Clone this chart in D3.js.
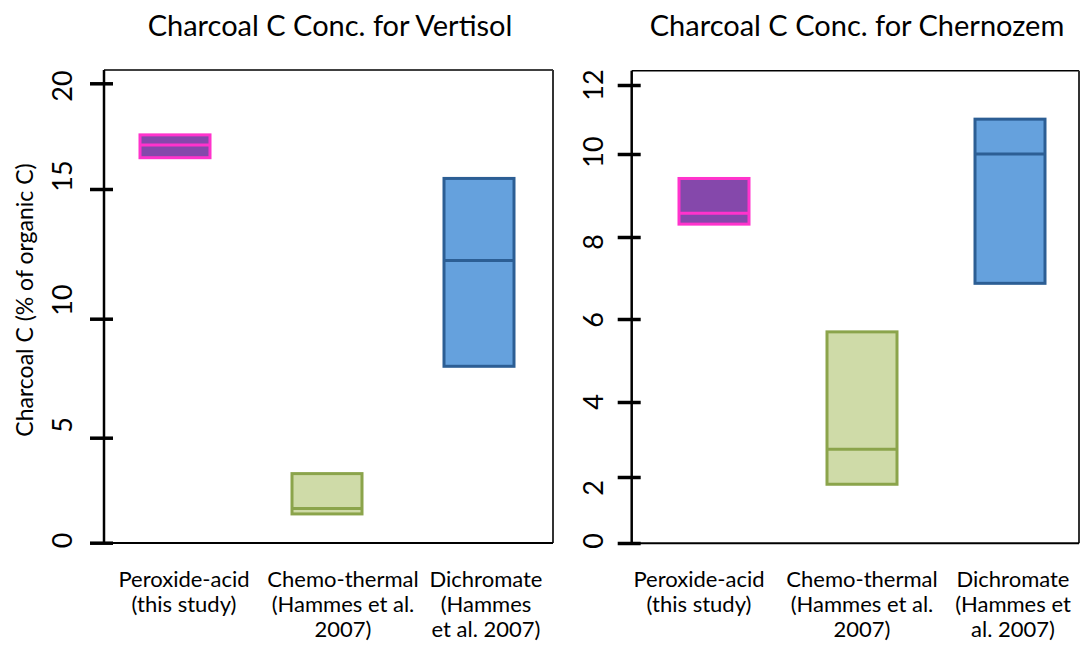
<!DOCTYPE html>
<html><head><meta charset="utf-8">
<script src="https://cdn.jsdelivr.net/npm/d3@7"></script>
<style>
body{margin:0;background:#fff}
svg{display:block}
text{font-family:Lato,"Open Sans",sans-serif;fill:#000}
</style>
</head><body><svg id="chart" width="1083" height="647"></svg>
<script>
// ---------- data ----------
const categories = ["Peroxide-acid", "Chemo-thermal", "Dichromate"];
const vertisolLow    = [16.48, 1.37, 8.0];
const vertisolMedian = [17.08, 1.63, 12.24];
const vertisolHigh   = [17.56, 3.29, 15.5];
const chernozemLow    = [8.31, 1.78, 6.87];
const chernozemMedian = [8.57, 2.74, 10.0];
const chernozemHigh   = [9.41, 5.69, 11.01];
const vertisolTicks  = [0, 5, 10, 15, 20];
const chernozemTicks = [0, 2, 4, 6, 8, 10, 12];
const vertisolCatLabels = [["Peroxide-acid", "(this study)"], ["Chemo-thermal", "(Hammes et al.", "2007)"], ["Dichromate", "(Hammes", "et al. 2007)"]];
const chernozemCatLabels = [["Peroxide-acid", "(this study)"], ["Chemo-thermal", "(Hammes et al.", "2007)"], ["Dichromate", "(Hammes et", "al. 2007)"]];
const panelTitles = ["Charcoal C Conc. for Vertisol", "Charcoal C Conc. for Chernozem"];
const yAxisTitle = "Charcoal C (% of organic C)";

// ---------- styles ----------
const fills   = ["#8548AB", "#CFDBA8", "#65A1DD"];
const strokes = ["#FF33CC", "#8BA44B", "#2C5E94"];

// ---------- layout (the source figure has hand-placed, uneven tick spacing) ----------
const panels = [
  { title: panelTitles[0], titleX: 330, low: vertisolLow, med: vertisolMedian, high: vertisolHigh,
    ticks: vertisolTicks, tickPx: [542.7, 437.7, 318.7, 189, 83.3], labelPx: [540.5, 425, 300, 176, 86],
    left: 104, top: 70, right: 553, bottom: 543, boxRange: [175, 479], catLabelX: [184, 343, 486],
    catLabels: vertisolCatLabels, tickLabelX: 62, showYTitle: true },
  { title: panelTitles[1], titleX: 857, low: chernozemLow, med: chernozemMedian, high: chernozemHigh,
    ticks: chernozemTicks, tickPx: [543, 477, 402, 319, 237, 154, 85], labelPx: [541, 488, 402, 320, 242, 152, 85],
    left: 631.7, top: 70.7, right: 1079, bottom: 543.3, boxRange: [714, 1010], catLabelX: [699, 862, 1013],
    catLabels: chernozemCatLabels, tickLabelX: 593, showYTitle: false }
];

const svg = d3.select("#chart");

panels.forEach(p => {
  const g = svg.append("g");
  const y = d3.scaleLinear().domain(p.ticks).range(p.tickPx);
  const yLab = d3.scaleLinear().domain(p.ticks).range(p.labelPx);
  const x = d3.scalePoint().domain(categories).range(p.boxRange);
  const xLab = d3.scaleOrdinal().domain(categories).range(p.catLabelX);

  // frame
  g.append("line").attr("x1", p.left).attr("x2", p.right).attr("y1", p.top).attr("y2", p.top)
    .attr("stroke", "#000").attr("stroke-width", 1.5);
  g.append("line").attr("x1", p.right).attr("x2", p.right).attr("y1", p.top).attr("y2", p.bottom)
    .attr("stroke", "#333").attr("stroke-width", 2);
  g.append("line").attr("x1", p.left).attr("x2", p.right).attr("y1", p.bottom).attr("y2", p.bottom)
    .attr("stroke", "#000").attr("stroke-width", 2);
  g.append("line").attr("x1", p.left).attr("x2", p.left).attr("y1", p.top).attr("y2", p.bottom)
    .attr("stroke", "#000").attr("stroke-width", 2.5);

  // ticks (crossing the axis)
  const ax = g.append("g").attr("transform", `translate(${p.left},0)`)
    .call(d3.axisLeft(y).tickValues(p.ticks).tickSize(14).tickFormat(""));
  ax.select(".domain").remove();
  ax.selectAll(".tick line").attr("x1", 9).attr("x2", -14)
    .attr("stroke", "#000").attr("stroke-width", 3.5);

  // tick labels (rotated)
  g.selectAll("text.tl").data(p.ticks).join("text").attr("class", "tl")
    .attr("transform", d => `translate(${p.tickLabelX},${yLab(d)}) rotate(-90)`)
    .attr("text-anchor", "middle").attr("dy", "0.36em")
    .style("font-size", "27px").text(d => d);

  // boxes
  const half = 35;
  const bx = g.selectAll("g.box").data(categories).join("g").attr("class", "box");
  bx.append("rect")
    .attr("x", d => x(d) - half).attr("width", half * 2)
    .attr("y", (d, i) => y(p.high[i])).attr("height", (d, i) => y(p.low[i]) - y(p.high[i]))
    .attr("fill", (d, i) => fills[i]).attr("stroke", (d, i) => strokes[i]).attr("stroke-width", 3);
  bx.append("line")
    .attr("x1", d => x(d) - half).attr("x2", d => x(d) + half)
    .attr("y1", (d, i) => y(p.med[i])).attr("y2", (d, i) => y(p.med[i]))
    .attr("stroke", (d, i) => strokes[i]).attr("stroke-width", 3);

  // category labels
  g.selectAll("text.cl").data(categories).join("text").attr("class", "cl")
    .attr("text-anchor", "middle").style("font-size", "22px")
    .each(function (d, i) {
      d3.select(this).selectAll("tspan").data(p.catLabels[i]).join("tspan")
        .attr("x", xLab(d)).attr("y", (t, j) => 587 + j * 25).text(t => t);
    });

  // title
  g.append("text").attr("x", p.titleX).attr("y", 36).attr("text-anchor", "middle")
    .style("font-size", "29px").text(p.title);

  if (p.showYTitle) {
    g.append("text").attr("transform", "translate(25,300) rotate(-90)")
      .attr("text-anchor", "middle").attr("dy", "0.36em")
      .style("font-size", "23px").text(yAxisTitle);
  }
});
</script>
</body></html>
